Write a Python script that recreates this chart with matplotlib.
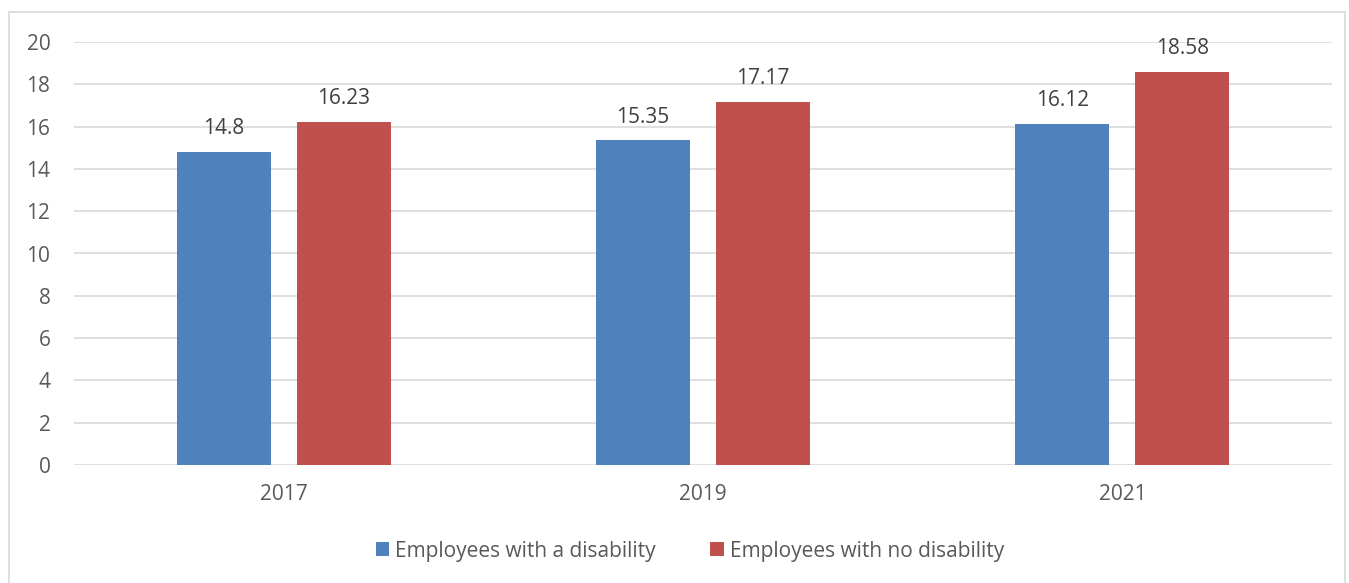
import matplotlib.pyplot as plt
import numpy as np
from matplotlib.patches import Rectangle

plt.rcParams['font.family'] = ['Open Sans', 'DejaVu Sans']

years = ["2017", "2019", "2021"]
with_disability = [14.8, 15.35, 16.12]
no_disability = [16.23, 17.17, 18.58]
labels = ["Employees with a disability", "Employees with no disability"]

blue = "#4F81BD"
red = "#C0504D"
txt = "#595959"
fs = 15

fig = plt.figure(figsize=(13.49, 5.83), dpi=100)
ax = fig.add_axes([74/1349, 1-465/583, (1332-74)/1349, (465-42)/583])

# outer chart border
fig.patches.append(Rectangle((9/1349, -0.02), (1345-9)/1349, 1-12/583+0.02,
                             transform=fig.transFigure, fill=False,
                             edgecolor="#D9D9D9", linewidth=1.2))

x = np.arange(len(years))
w = 0.224
off = 0.143
b1 = ax.bar(x - off, with_disability, w, color=blue, label=labels[0], zorder=3)
b2 = ax.bar(x + off, no_disability, w, color=red, label=labels[1], zorder=3)

for bars in (b1, b2):
    for b in bars:
        ax.text(b.get_x() + b.get_width()/2, b.get_height() + 0.6,
                f"{b.get_height():g}", ha="center", va="bottom",
                fontsize=fs, color="#404040")

ax.set_xlim(-0.5, 2.5)
ax.set_ylim(0, 20)
ax.set_yticks(range(0, 21, 2))
ax.set_xticks(x)
ax.set_xticklabels(years)
ax.yaxis.grid(True, color="#D9D9D9", linewidth=1.2, zorder=0)
ax.set_axisbelow(True)
for s in ax.spines.values():
    s.set_visible(False)
ax.tick_params(length=0, labelsize=fs, colors=txt)
ax.tick_params(axis="y", pad=17)
ax.tick_params(axis="x", pad=14)

fig.legend(handles=[b1, b2], loc="center", bbox_to_anchor=(690/1349, 1-551/583),
           ncol=2, frameon=False, fontsize=fs, labelcolor=txt,
           handlelength=0.65, handleheight=0.65, handletextpad=0.3, columnspacing=2.6)

fig.savefig("out.png", dpi=100)
